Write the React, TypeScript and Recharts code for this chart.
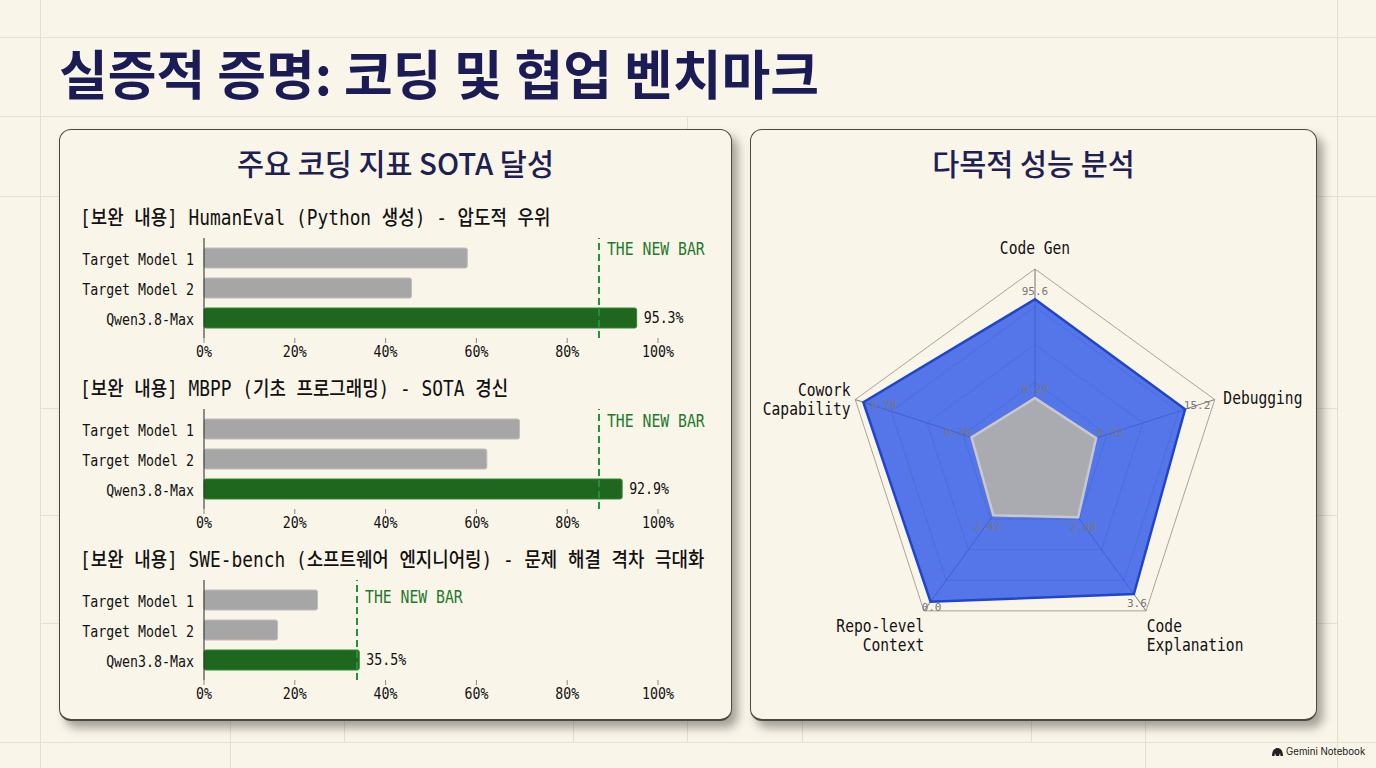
import { BarChart, Bar, XAxis, YAxis, Cell, LabelList, ReferenceLine, RadarChart, Radar, PolarGrid, PolarAngleAxis, PolarRadiusAxis } from "recharts";

const MONO = '"DejaVu Sans Mono", "Noto Sans CJK KR", monospace';
const SANS = '"Noto Sans CJK KR", "Noto Sans", sans-serif';
const SQUEEZE = 0.83; // the reference's mono text is tall and narrow

const models = ["Target Model 1", "Target Model 2", "Qwen3.8-Max"];
const xTicks = [0, 20, 40, 60, 80, 100];

const humanEvalValues = [58, 45.7, 95.3];
const mbppValues = [69.5, 62.3, 92.1];
const sweValues = [25, 16.2, 34.2];

const humanEvalLabels = ["", "", "95.3%"];
const mbppLabels = ["", "", "92.9%"];
const sweLabels = ["", "", "35.5%"];

const radarAxes = ["Code Gen", "Debugging", "Code Explanation", "Repo-level Context", "Cowork Capability"];
const qwenScores = [0.84, 0.835, 0.89, 0.94, 0.955];
const baselineScores = [0.317, 0.34, 0.388, 0.375, 0.353];
const qwenScoreLabels = ["95.6", "15.2", "3.6", "0.0", "9.78"];
const baselineScoreLabels = ["0.29", "0.32", "2.08", "2.42", "0.20"];

const hLines = [
  [0, 1376, 37],
  [0, 1376, 116],
  [0, 60, 196],
  [1317, 1376, 196],
  [40, 60, 408],
  [1317, 1337, 408],
  [40, 60, 515],
  [1317, 1337, 515],
  [40, 60, 623],
  [1317, 1337, 623],
  [0, 1376, 742],
];
const vLines = [
  [40, 0, 768],
  [1337, 0, 768],
  [687, 116, 130],
  [230, 720, 768],
  [344, 720, 742],
  [573, 720, 742],
  [687, 720, 742],
  [802, 720, 742],
  [1031, 720, 742],
  [1145, 720, 768],
];

function BackgroundGrid() {
  return (
    <>
      {hLines.map(([a, b, y], i) => (
        <div key={i} style={{ position: "absolute", left: a, width: b - a, top: y, height: 1, background: "#e6e1d4" }} />
      ))}
      {vLines.map(([x, a, b], i) => (
        <div key={i} style={{ position: "absolute", left: x, top: a, height: b - a, width: 1, background: "#e3dfd2" }} />
      ))}
    </>
  );
}

function Panel({ left, width, title }: { left: number; width: number; title: string }) {
  return (
    <div
      style={{
        position: "absolute",
        left,
        top: 129,
        width,
        height: 592,
        boxSizing: "border-box",
        border: "1px solid #4a4a44",
        borderBottomWidth: 2,
        borderRadius: 12,
        background: "#faf5e9",
        boxShadow: "6px 7px 10px rgba(60,60,50,0.45)",
      }}
    >
      <div style={{ position: "absolute", left: 0, right: 0, top: 12, textAlign: "center", fontFamily: SANS, fontSize: 29.4, fontWeight: 500, color: "#1d2152", lineHeight: "40px" }}>
        {title}
      </div>
    </div>
  );
}

function MonoText({ x, y, anchor = "start", size = 16, fill = "#111", children }: any) {
  return (
    <text transform={`translate(${x} ${y}) scale(${SQUEEZE} 1)`} textAnchor={anchor} fontFamily={MONO} fontSize={size} fill={fill}>
      {children}
    </text>
  );
}

function NewBarLabel({ viewBox, dy }: any) {
  return (
    <MonoText x={viewBox.x + 8} y={viewBox.y + dy} size={17.8} fill="#1f7a2c">
      THE NEW BAR
    </MonoText>
  );
}

function XTick({ x, y, payload }: any) {
  return (
    <MonoText x={x} y={y + 10} anchor="middle">
      {payload.value}%
    </MonoText>
  );
}

function YTick({ x, y, payload }: any) {
  return (
    <MonoText x={x} y={y + 6.5} anchor="end">
      {payload.value}
    </MonoText>
  );
}

function ValueLabel({ x, y, width, height, value }: any) {
  if (!value) return null;
  return (
    <MonoText x={x + width + 7} y={y + height / 2 + 5}>
      {value}
    </MonoText>
  );
}

function BenchChart({ top, heading, values, labels, bar, labelDy }: { top: number; heading: string; values: number[]; labels: string[]; bar: number; labelDy: number }) {
  const rows = models.map((name, i) => ({ name, value: values[i], label: labels[i] }));
  return (
    <>
      <div
        style={{
          position: "absolute",
          left: 80,
          top: top - 33,
          fontFamily: MONO,
          fontSize: 20.6,
          lineHeight: "26px",
          color: "#111",
          whiteSpace: "pre",
          fontWeight: 500,
          transform: "scaleX(0.866)",
          transformOrigin: "left center",
        }}
      >
        {heading}
      </div>
      <div style={{ position: "absolute", left: 60, top }}>
        <BarChart width={670} height={130} data={rows} layout="vertical" margin={{ top: 0, right: 72, bottom: 0, left: 0 }} barCategoryGap={5}>
          <XAxis type="number" domain={[0, 100]} ticks={xTicks} axisLine={false} tickSize={5} tickMargin={4} tickLine={{ stroke: "#888" }} tick={<XTick />} height={30} />
          <YAxis type="category" dataKey="name" width={144} padding={{ top: 5, bottom: 5 }} axisLine={{ stroke: "#222" }} tickLine={false} tickMargin={4} tick={<YTick />} />
          <Bar dataKey="value" isAnimationActive={false} radius={2} strokeWidth={1}>
            {rows.map((r, i) => (
              <Cell key={r.name} fill={i === 2 ? "#1f661f" : "#a6a6a6"} stroke={i === 2 ? "#2f8a35" : "#bdbdbb"} />
            ))}
            <LabelList dataKey="label" content={<ValueLabel />} />
          </Bar>
          <ReferenceLine x={bar} stroke="#22913a" strokeWidth={2} strokeDasharray="7 4" label={<NewBarLabel dy={labelDy} />} />
        </BarChart>
      </div>
    </>
  );
}

// nudges from the chart's own tick anchor, per spoke
const tickLayout = [
  { dx: 0, dy: -7, anchor: "middle" },
  { dx: 1, dy: 7, anchor: "start" },
  { dx: -4, dy: 15, anchor: "start" },
  { dx: 5, dy: 15, anchor: "end" },
  { dx: 3, dy: -1, anchor: "end" },
];

function RadarTick({ x, y, index, payload }: any) {
  const t = tickLayout[index];
  const lines = index === 0 ? [payload.value] : String(payload.value).split(" ");
  return (
    <g>
      {lines.map((w: string, i: number) => (
        <MonoText key={w} x={x + t.dx} y={y + t.dy + i * 19} anchor={t.anchor} size={17.6}>
          {w}
        </MonoText>
      ))}
    </g>
  );
}

const qwenNudge = [[0, -4], [12, 0], [3, 13], [1, 9], [20, 7]];
const baselineNudge = [[0, -5], [14, -2], [5, 14], [-6, 15], [-14, -1]];

function scoreLabel(texts: string[], nudge: number[][]) {
  return ({ x, y, index }: any) => (
    <text x={x + nudge[index][0]} y={y + nudge[index][1]} textAnchor="middle" fontFamily={MONO} fontSize={11} fill="#77777a">
      {texts[index]}
    </text>
  );
}

const ringRadii = [37.8, 75.6, 113.4, 151.2];

export default function App() {
  const radarData = radarAxes.map((axis, i) => ({ axis, qwen: qwenScores[i], baseline: baselineScores[i] }));
  return (
    <div style={{ position: "absolute", left: 0, top: 0, width: 1376, height: 768, background: "#faf5e9", overflow: "hidden" }}>
      <BackgroundGrid />
      <div style={{ position: "absolute", left: 59, top: 34, fontFamily: SANS, fontSize: 53, fontWeight: 700, lineHeight: "76px", color: "#1b1c55", whiteSpace: "pre" }}>
        실증적 증명: 코딩 및 협업 벤치마크
      </div>

      <Panel left={59} width={673} title="주요 코딩 지표 SOTA 달성" />
      <Panel left={750} width={567} title="다목적 성능 분석" />

      <BenchChart top={238} heading="[보완 내용] HumanEval (Python 생성) - 압도적 우위" values={humanEvalValues} labels={humanEvalLabels} bar={87} labelDy={17} />
      <BenchChart top={409} heading="[보완 내용] MBPP (기초 프로그래밍) - SOTA 경신" values={mbppValues} labels={mbppLabels} bar={87} labelDy={18} />
      <BenchChart top={580} heading="[보완 내용] SWE-bench (소프트웨어 엔지니어링) - 문제 해결 격차 극대화" values={sweValues} labels={sweLabels} bar={33.7} labelDy={23} />

      <div style={{ position: "absolute", left: 735, top: 208 }}>
        <RadarChart width={600} height={500} data={radarData} cx={300} cy={250} outerRadius={189} startAngle={90} endAngle={-270}>
          <PolarGrid gridType="polygon" stroke="#a8a498" strokeWidth={1} polarRadius={[189]} />
          <PolarAngleAxis dataKey="axis" tick={<RadarTick />} tickLine={false} />
          <PolarRadiusAxis domain={[0, 1]} tickCount={6} tick={false} axisLine={false} />
          <Radar dataKey="qwen" fill="#2f5ae8" fillOpacity={0.82} stroke="#1f45cc" strokeWidth={2.5} isAnimationActive={false} label={scoreLabel(qwenScoreLabels, qwenNudge)} />
          <Radar dataKey="baseline" fill="#b3b1aa" fillOpacity={0.9} stroke="#c9c9cb" strokeWidth={2.5} isAnimationActive={false} label={scoreLabel(baselineScoreLabels, baselineNudge)} />
          <PolarGrid gridType="polygon" stroke="rgba(50,50,70,0.3)" strokeWidth={1} polarRadius={ringRadii} />
        </RadarChart>
      </div>

      <div style={{ position: "absolute", left: 1272, top: 745, display: "flex", alignItems: "center", gap: 3, fontFamily: "Inter, sans-serif", fontSize: 9.7, color: "#222", lineHeight: "14px" }}>
        <svg width={11} height={8} viewBox="0 0 11 8">
          <path d="M0 8 C0 2 3 0 5.5 0 C8 0 11 2 11 8 L8.5 8 L8 5 L7 8 L4 8 L3 5 L2.5 8 Z" fill="#222" />
        </svg>
        Gemini Notebook
      </div>
    </div>
  );
}
